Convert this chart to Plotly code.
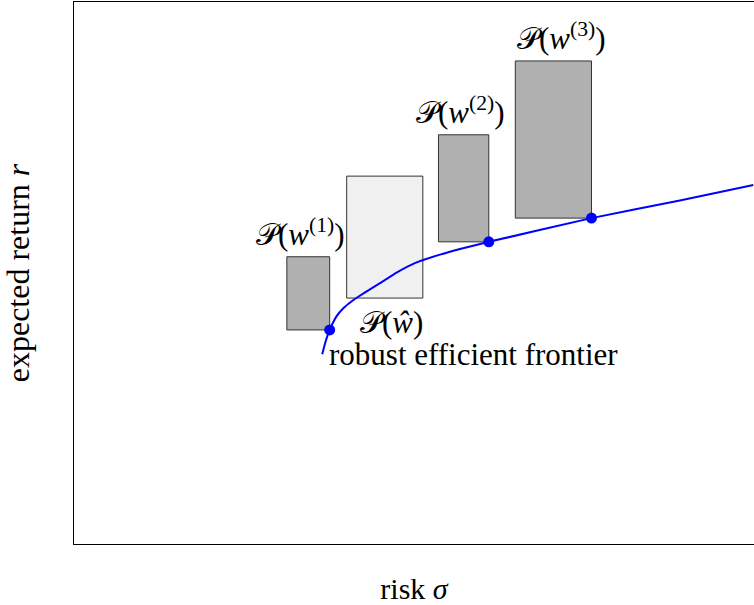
import plotly.graph_objects as go

# Portfolio uncertainty boxes: risk interval x return interval
portfolios = ["w1", "w_hat", "w2", "w3"]
labels = ["𝒫(<i>w</i><sup>(1)</sup>)", "𝒫(<i>ŵ</i>)", "𝒫(<i>w</i><sup>(2)</sup>)", "𝒫(<i>w</i><sup>(3)</sup>)"]
risk_lo = [3.13, 4.01, 5.36, 6.49]
risk_hi = [3.76, 5.13, 6.10, 7.61]
ret_lo = [3.16, 3.63, 4.46, 4.81]
ret_hi = [4.24, 5.43, 6.04, 7.13]
box_fill = ["#b0b0b0", "#f0f0f0", "#b0b0b0", "#b0b0b0"]

# Robust efficient frontier (risk, expected return)
frontier_risk = [3.65, 3.70, 3.76, 3.86, 3.96, 4.08, 4.18, 4.37, 4.50, 4.75,
                 5.02, 5.48, 5.78, 6.10, 7.61, 8.91, 9.99]
frontier_ret = [2.80, 2.99, 3.16, 3.36, 3.48, 3.58, 3.65, 3.77, 3.85, 4.01,
                4.15, 4.30, 4.38, 4.46, 4.81, 5.07, 5.30]

# Portfolios lying on the frontier (worst-case corner of their boxes)
on_frontier = ["w1", "w2", "w3"]

FONT = "Liberation Serif"

fig = go.Figure()

for i, name in enumerate(portfolios):
    fig.add_shape(
        type="rect",
        x0=risk_lo[i], x1=risk_hi[i], y0=ret_lo[i], y1=ret_hi[i],
        fillcolor=box_fill[i],
        line=dict(color="#333333", width=1),
        layer="below",
    )

fig.add_trace(go.Scatter(
    x=frontier_risk, y=frontier_ret,
    mode="lines",
    line=dict(color="#0000ff", width=2, shape="spline", smoothing=0.4),
    hoverinfo="skip",
))

idx = [portfolios.index(p) for p in on_frontier]
fig.add_trace(go.Scatter(
    x=[risk_hi[i] for i in idx], y=[ret_lo[i] for i in idx],
    mode="markers",
    marker=dict(color="#0000ff", size=11),
    hoverinfo="skip",
))

# Box labels: above the boxes, except the nominal one which sits below
label_offsets = {"w1": (-0.12, "top"), "w_hat": (0.10, "bottom"),
                 "w2": (-0.04, "top"), "w3": (0.12, "top")}
for i, name in enumerate(portfolios):
    dx, side = label_offsets[name]
    xc = (risk_lo[i] + risk_hi[i]) / 2 + dx
    if side == "top":
        fig.add_annotation(x=xc, y=ret_hi[i], text=labels[i], showarrow=False,
                           yanchor="bottom", yshift=3,
                           font=dict(family=FONT, size=31, color="black"))
    else:
        fig.add_annotation(x=xc, y=ret_lo[i], text=labels[i], showarrow=False,
                           yanchor="top", yshift=-5,
                           font=dict(family=FONT, size=31, color="black"))

fig.add_annotation(x=risk_hi[0], y=frontier_ret[0], text="robust efficient frontier",
                   showarrow=False, xanchor="left", yanchor="middle", xshift=-3,
                   font=dict(family=FONT, size=31, color="black"))

fig.update_layout(
    width=754, height=605,
    margin=dict(l=74, r=0, t=2, b=61),
    paper_bgcolor="white", plot_bgcolor="white",
    showlegend=False,
    xaxis=dict(range=[0, 10], showgrid=False, zeroline=False, showticklabels=False,
               ticks="", showline=True, linecolor="black", linewidth=1.3, mirror=True,
               title=dict(text="risk <i>σ</i>", standoff=35,
                          font=dict(family=FONT, size=30, color="black"))),
    yaxis=dict(range=[0, 8], showgrid=False, zeroline=False, showticklabels=False,
               ticks="", showline=True, linecolor="black", linewidth=1.3, mirror=False,
               title=dict(text="expected return <i>r</i>", standoff=34,
                          font=dict(family=FONT, size=32, color="black"))),
)

fig.write_html("out.html")
